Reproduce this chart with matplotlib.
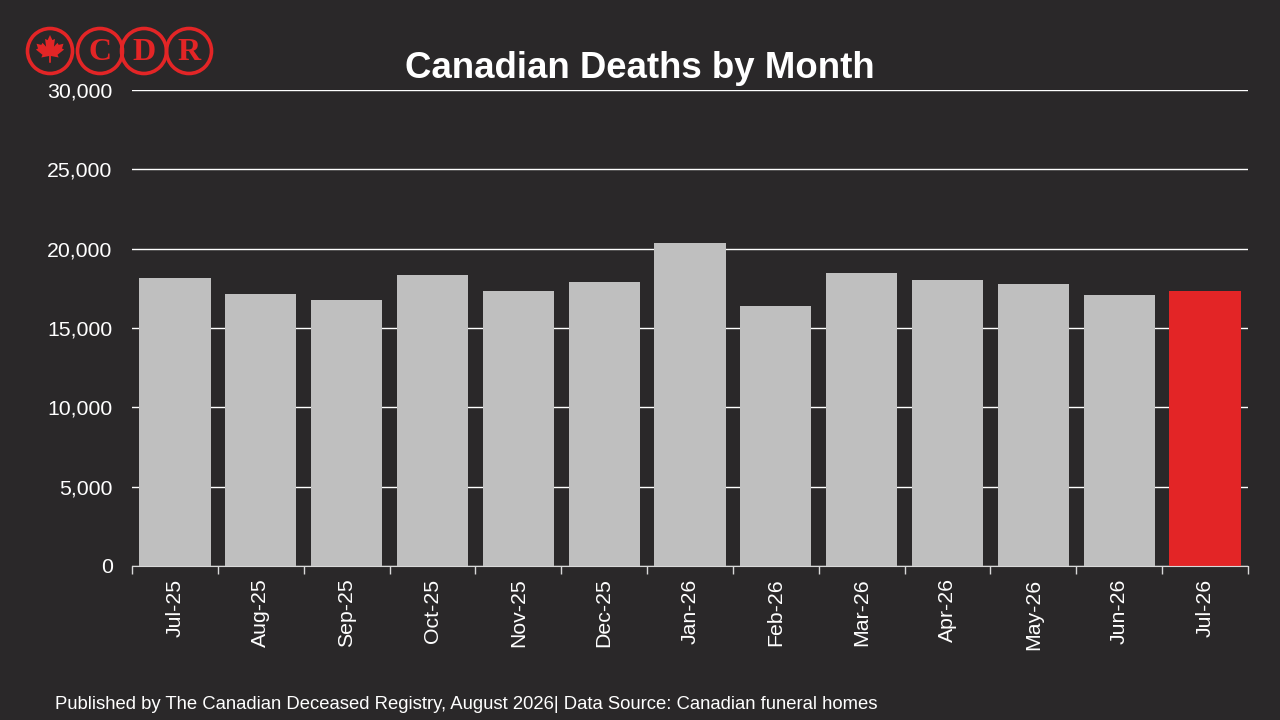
import numpy as np
import matplotlib.pyplot as plt
from matplotlib.patches import Circle, Polygon
from matplotlib.ticker import FuncFormatter

# monthly deaths
months = ["Jul-25", "Aug-25", "Sep-25", "Oct-25", "Nov-25", "Dec-25", "Jan-26",
          "Feb-26", "Mar-26", "Apr-26", "May-26", "Jun-26", "Jul-26"]
deaths = [18150, 17150, 16770, 18340, 17330, 17900, 20360,
          16390, 18470, 18030, 17770, 17080, 17330]
y_ticks = [0, 5000, 10000, 15000, 20000, 25000, 30000]

BG = "#2a2829"
GREY = "#bfbfbf"
RED = "#e32526"

plt.rcParams['font.family'] = ['Liberation Sans', 'DejaVu Sans']

fig = plt.figure(figsize=(12.8, 7.2), dpi=100, facecolor=BG)
ax = fig.add_axes([0.1031, 0.2139, 0.8719, 0.6611])
ax.set_facecolor(BG)

x = np.arange(len(months))
colors = [GREY] * (len(months) - 1) + [RED]
ax.bar(x, deaths, width=0.83, color=colors, zorder=3)

ax.set_xlim(-0.5, len(months) - 0.5)
ax.set_ylim(0, 30000)
ax.set_yticks(y_ticks)
ax.yaxis.set_major_formatter(FuncFormatter(lambda v, p: f"{int(v):,}"))
ax.grid(axis="y", color="white", lw=1, zorder=0)
ax.tick_params(axis="y", length=0, pad=14, labelsize=15.3, labelcolor="white")

# boundary ticks below the axis, labels at bar centres
ax.set_xticks(np.arange(len(months) + 1) - 0.5)
ax.set_xticklabels([])
ax.tick_params(axis="x", which="major", length=6, color="#d9d9d9", width=1)
ax.set_xticks(x, minor=True)
ax.set_xticklabels(months, minor=True, rotation=90)
ax.tick_params(axis="x", which="minor", length=0, pad=9, labelsize=15.3, labelcolor="white")

for s in ["top", "right", "left"]:
    ax.spines[s].set_visible(False)
ax.spines["bottom"].set_color("#d9d9d9")
ax.spines["bottom"].set_zorder(4)

fig.text(0.5, 0.905, "Canadian Deaths by Month", ha="center", va="center",
         fontsize=26.4, fontweight="bold", color="white")
fig.text(0.043, 0.021, "Published by The Canadian Deceased Registry, August 2026| Data Source: Canadian funeral homes",
         ha="left", va="center", fontsize=13.3, color="white")

# logo, drawn in pixel coordinates
lg = fig.add_axes([0, 0, 1, 1], zorder=5)
lg.set_xlim(0, 1280)
lg.set_ylim(720, 0)
lg.axis("off")
for cx in [50, 100, 144, 189]:
    lg.add_patch(Circle((cx, 51), 22.5, fill=False, ec=RED, lw=2.6))
for cx, letter in zip([100, 144, 189], ["C", "D", "R"]):
    lg.text(cx, 53, letter, ha="center", va="center", color=RED,
            fontsize=23, fontweight="bold", family="Liberation Serif")
leaf = np.array([(0, 1.0), (0.16, 0.66), (0.33, 0.74), (0.26, 0.22), (0.5, 0.48),
                 (0.58, 0.34), (0.9, 0.42), (0.8, 0.1), (0.94, 0.03), (0.5, -0.32),
                 (0.58, -0.5), (0.06, -0.4), (0.06, -0.85), (-0.06, -0.85), (-0.06, -0.4),
                 (-0.58, -0.5), (-0.5, -0.32), (-0.94, 0.03), (-0.8, 0.1), (-0.9, 0.42),
                 (-0.58, 0.34), (-0.5, 0.48), (-0.26, 0.22), (-0.33, 0.74), (-0.16, 0.66)])
pts = np.column_stack([50 + leaf[:, 0] * 15, 50 - leaf[:, 1] * 15])
lg.add_patch(Polygon(pts, closed=True, fc=RED, ec="none"))

fig.savefig("out.png", dpi=100, facecolor=BG)
